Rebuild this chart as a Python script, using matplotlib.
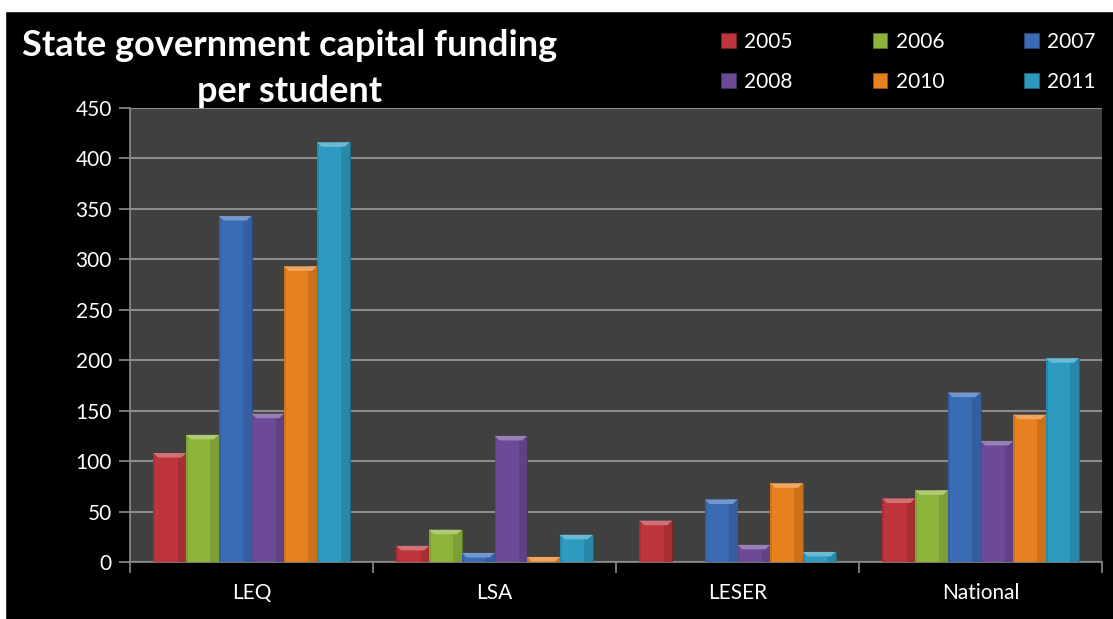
import matplotlib
matplotlib.use("Agg")
import matplotlib.pyplot as plt
import numpy as np
from matplotlib.patches import Rectangle, Polygon
from matplotlib.colors import to_rgb

categories = ["LEQ", "LSA", "LESER", "National"]
years = ["2005", "2006", "2007", "2008", "2010", "2011"]
v2005 = [108, 16, 41, 63]
v2006 = [126, 32, 0, 71]
v2007 = [343, 9, 62, 168]
v2008 = [147, 125, 17, 120]
v2010 = [293, 5, 78, 146]
v2011 = [416, 27, 10, 202]
series = [v2005, v2006, v2007, v2008, v2010, v2011]
colors = ["#BE353B", "#8DB43A", "#3A6CB6", "#6C4A98", "#E7801E", "#2C9BBF"]
yticks = [0, 50, 100, 150, 200, 250, 300, 350, 400, 450]

plt.rcParams['font.family'] = ['Lato', 'DejaVu Sans']

W, H = 1113, 619
fig = plt.figure(figsize=(W/100, H/100), dpi=100, facecolor="black")
fig.patches.append(Rectangle((0, 1 - 11/H), 1, 11/H, transform=fig.transFigure, color="white", zorder=0))
fig.patches.append(Rectangle((0, 0), 5/W, 1, transform=fig.transFigure, color="white", zorder=0))

ax = fig.add_axes([130/W, 57/H, (1102-130)/W, (562-108)/H])
ax.set_facecolor("#404040")

n = len(series)
x = np.arange(len(categories))
bw = 0.1345
offsets = (np.arange(n) - (n-1)/2) * bw

def shade(c, f):
    r = np.array(to_rgb(c))
    if f >= 0:
        return tuple(r + (1 - r) * f)
    return tuple(r * (1 + f))

handles = []
for i, (vals, col) in enumerate(zip(series, colors)):
    bars = ax.bar(x + offsets[i], vals, width=bw, color=col, edgecolor=shade(col, -0.35),
                  linewidth=0.6, zorder=3, label=years[i])
    handles.append(bars)
    for b in bars:
        bx, by, bwid, bh = b.get_x(), b.get_y(), b.get_width(), b.get_height()
        if bh <= 0:
            continue
        ax.add_patch(Rectangle((bx + bwid*0.74, by), bwid*0.26, bh, color=shade(col, -0.12), lw=0, zorder=3.1))
        ax.add_patch(Rectangle((bx, by), bwid*0.06, bh, color=shade(col, -0.1), lw=0, zorder=3.1))
        bev = min(4.5, bh)
        ax.add_patch(Polygon([(bx, by+bh), (bx+bwid, by+bh), (bx+bwid*0.85, by+bh-bev), (bx+bwid*0.15, by+bh-bev)],
                             closed=True, color=shade(col, 0.3), lw=0, zorder=3.2))

ax.set_xlim(-0.5, len(categories) - 0.5)
ax.set_ylim(0, 450)
ax.set_yticks(yticks)
ax.set_yticklabels([str(t) for t in yticks], color="white", fontsize=15)
ax.set_xticks(x)
ax.set_xticklabels(categories, color="white", fontsize=15)
ax.set_xticks(np.arange(len(categories)+1) - 0.5, minor=True)
ax.tick_params(axis="x", which="major", length=0, pad=15)
ax.tick_params(axis="x", which="minor", length=8, color="#8c8c8c", width=1.2)
ax.tick_params(axis="y", length=8, color="#8c8c8c", width=1.2, pad=5)
ax.grid(axis="y", color="#8c8c8c", linewidth=1.5, zorder=1)
ax.set_axisbelow(True)
for s in ["top", "right"]:
    ax.spines[s].set_visible(False)
for s in ["left", "bottom"]:
    ax.spines[s].set_color("#8c8c8c")
    ax.spines[s].set_linewidth(1.2)

fig.text(290/W, 1 - 45/H, "State government capital funding", ha="center", va="center",
         color="white", fontsize=26, fontweight="bold")
fig.text(290/W, 1 - 92/H, "per student", ha="center", va="center",
         color="white", fontsize=26, fontweight="bold")

order = [0, 3, 1, 4, 2, 5]
leg = fig.legend([handles[k] for k in order], [years[k] for k in order],
                 loc="upper left", bbox_to_anchor=(721/W, 1 - 32/H), ncol=3, frameon=False,
                 fontsize=15, labelcolor="white", handlelength=0.7, handleheight=0.7,
                 handletextpad=0.4, columnspacing=3.85, labelspacing=0.95, borderaxespad=0, borderpad=0)

fig.savefig("out.png", dpi=100, facecolor="black")
